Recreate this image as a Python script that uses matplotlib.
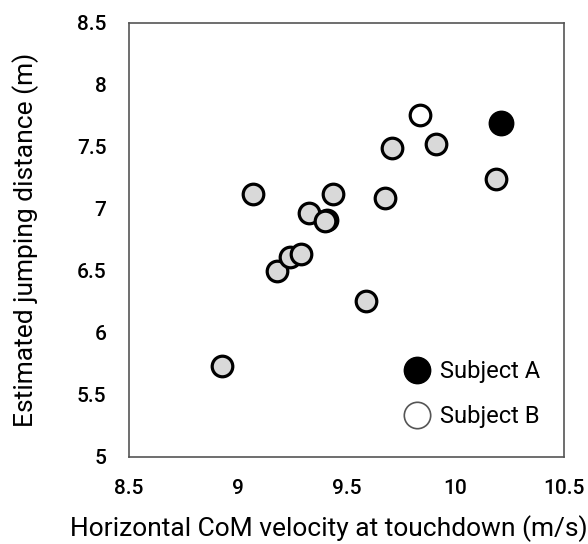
import matplotlib.pyplot as plt
from matplotlib.lines import Line2D

# other jumps (grey)
vel = [8.93, 9.07, 9.18, 9.24, 9.29, 9.33, 9.41, 9.40, 9.44, 9.59, 9.68, 9.71, 9.91, 10.19]
dist = [5.73, 7.12, 6.50, 6.61, 6.64, 6.97, 6.91, 6.90, 7.12, 6.26, 7.09, 7.49, 7.52, 7.24]
# highlighted subjects
vel_a, dist_a = [10.21], [7.69]
vel_b, dist_b = [9.84], [7.76]

xticks = [8.5, 9, 9.5, 10, 10.5]
xticklabels = ['8.5', '9', '9.5', '10', '10.5']
yticks = [5, 5.5, 6, 6.5, 7, 7.5, 8, 8.5]
yticklabels = ['5', '5.5', '6', '6.5', '7', '7.5', '8', '8.5']

plt.rcParams['font.family'] = ['Roboto', 'DejaVu Sans']

fig = plt.figure(figsize=(5.88, 5.44), dpi=100)
ax = fig.add_axes([0.219, 0.160, 0.740, 0.798])

ax.scatter(vel, dist, s=220, c='#d9d9d9', edgecolors='black', linewidths=2.3, zorder=3)
ax.scatter(vel_b, dist_b, s=220, c='white', edgecolors='black', linewidths=2.3, zorder=3)
ax.scatter(vel_a, dist_a, s=310, c='black', edgecolors='black', linewidths=1, zorder=3)

ax.set_xlim(8.5, 10.5)
ax.set_ylim(5, 8.5)
ax.set_xticks(xticks)
ax.set_xticklabels(xticklabels)
ax.set_yticks(yticks)
ax.set_yticklabels(yticklabels)
ax.tick_params(length=0, labelsize=15, pad=16)
for lab in ax.get_xticklabels() + ax.get_yticklabels():
    lab.set_fontweight('medium')
for sp in ax.spines.values():
    sp.set_color('#555555')
    sp.set_linewidth(1.2)

# x label sits a bit left of the axes centre in the original
fig.text(329 / 588, 0.004, 'Horizontal CoM velocity at touchdown (m/s)', fontsize=19,
         ha='center', va='bottom')
ax.set_ylabel('Estimated jumping distance (m)', fontsize=19, labelpad=27)

handles = [
    Line2D([], [], marker='o', linestyle='none', markersize=19,
           markerfacecolor='black', markeredgecolor='black', label='Subject A'),
    Line2D([], [], marker='o', linestyle='none', markersize=19,
           markerfacecolor='white', markeredgecolor='#555555', markeredgewidth=1.2, label='Subject B'),
]
ax.legend(handles=handles, loc='lower right', bbox_to_anchor=(0.992, 0.02), frameon=False,
          handletextpad=0.0, labelspacing=0.95, borderaxespad=0.45,
          prop={'size': 17})

fig.savefig('out.png', dpi=100)
